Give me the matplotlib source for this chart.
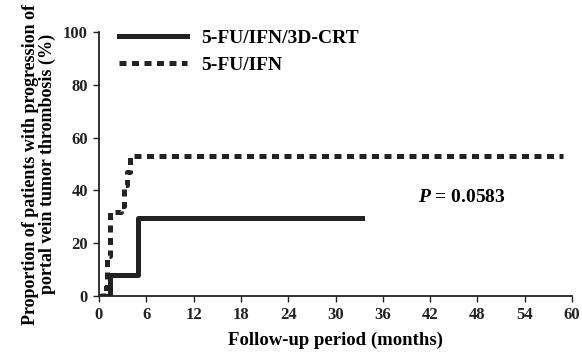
import matplotlib

matplotlib.use("Agg")
import matplotlib.pyplot as plt

# 5-FU/IFN/3D-CRT (step curve)
crt_months = [0, 1.4, 5.0, 33.3]
crt_pct = [0, 8, 29.5, 29.5]

# 5-FU/IFN (step curve)
ifn_months = [0, 0.5, 1.0, 1.4, 2.8, 3.2, 3.5, 4.0, 58.8]
ifn_pct = [0, 3, 15, 32, 34, 42, 47, 53, 53]

xticks = [0, 6, 12, 18, 24, 30, 36, 42, 48, 54, 60]
yticks = [0, 20, 40, 60, 80, 100]

plt.rcParams["font.family"] = ["Liberation Serif", "DejaVu Serif"]
plt.rcParams["font.weight"] = "bold"
plt.rcParams["mathtext.fontset"] = "custom"
plt.rcParams["mathtext.it"] = "Liberation Serif:italic:bold"
plt.rcParams["mathtext.rm"] = "Liberation Serif:bold"

fig = plt.figure(figsize=(5.82, 3.52), dpi=100)
ax = fig.add_axes([0.170, 0.159, 0.813, 0.750])

ax.step(crt_months, crt_pct, where="post", color="#222222", lw=3.6,
        label="5-FU/IFN/3D-CRT")
ax.step(ifn_months, ifn_pct, where="post", color="#222222", lw=3.6,
        linestyle=(0, (1.4, 1.1)), label="5-FU/IFN")

ax.set_xlim(0, 60)
ax.set_ylim(0, 100)
ax.set_xticks(xticks)
ax.set_yticks(yticks)
ax.tick_params(labelsize=12, length=4, width=1, colors="#222222", pad=4)
for lab in ax.get_xticklabels() + ax.get_yticklabels():
    lab.set_fontweight("bold")
ax.spines["top"].set_visible(False)
ax.spines["right"].set_visible(False)
for s in ("left", "bottom"):
    ax.spines[s].set_linewidth(1.3)
    ax.spines[s].set_color("#222222")

ax.set_xlabel("Follow-up period (months)", fontsize=13.5, fontweight="bold",
              labelpad=6)
ax.set_ylabel("Proportion of patients with progression of\nportal vein tumor thrombosis (%)",
              fontsize=13, fontweight="bold", labelpad=5, linespacing=1.0)

ax.text(40.5, 37.5, r"$P$ = 0.0583", fontsize=14, fontweight="bold",
        va="center", ha="left")

leg = ax.legend(loc="upper left", frameon=False, fontsize=14,
                handlelength=3.5, handletextpad=0.75, borderaxespad=0.0,
                bbox_to_anchor=(0.026, 1.04), labelspacing=0.5)
for t in leg.get_texts():
    t.set_fontweight("bold")

fig.savefig("out.png", dpi=100)
